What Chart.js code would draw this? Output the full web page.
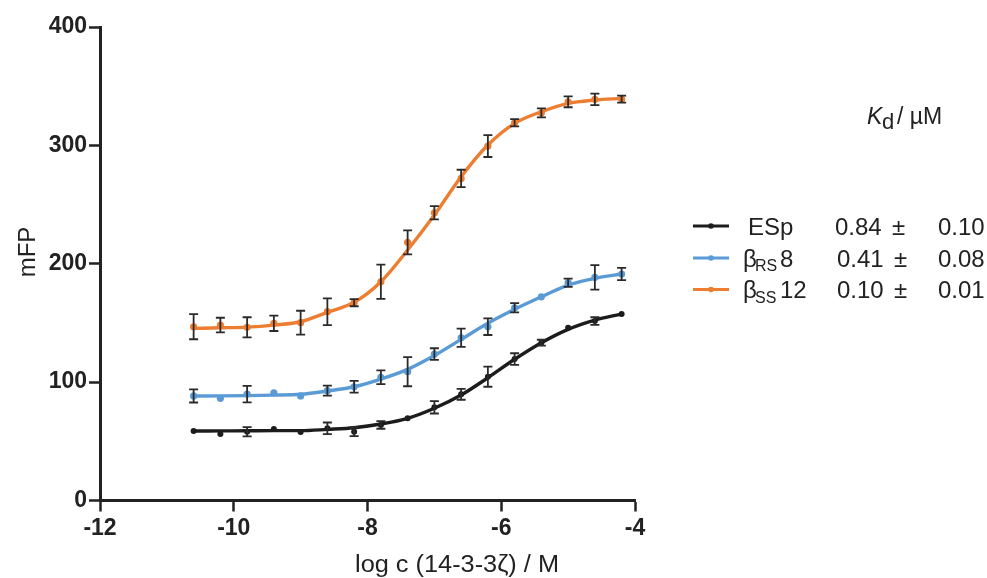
<!DOCTYPE html>
<html>
<head>
<meta charset="utf-8">
<script src="https://cdn.jsdelivr.net/npm/chart.js@4.4.0/dist/chart.umd.min.js"></script>
<style>
  html, body { margin: 0; padding: 0; background: #fff; }
</style>
</head>
<body>
<canvas id="myChart" width="987" height="578"></canvas>
<script>
// log concentration of 14-3-3ζ (M)
const logConc = [-10.6, -10.2, -9.8, -9.4, -9.0, -8.6, -8.2, -7.8, -7.4, -7.0, -6.6, -6.2, -5.8, -5.4, -5.0, -4.6, -4.2];

// ESp
const espMean = [58.7, 56.2, 58.1, 60.4, 57.9, 61.0, 58.1, 63.8, 69.4, 78.7, 89.7, 104.6, 119.5, 133.3, 145.9, 151.6, 157.5];
const espErr  = [0, 0, 3.9, 0, 0, 4.9, 3.7, 3.2, 0, 5.2, 4.6, 8.5, 4.9, 2.5, 0, 3.2, 0];
const espFit  = [58.7, 58.8, 58.9, 59.0, 59.0, 60.1, 61.5, 64.6, 69.4, 77.9, 89.1, 103.7, 119.3, 133.3, 144.6, 152.4, 157.5];

// βRS8
const rsMean = [88.3, 86.3, 89.9, 91.0, 88.3, 92.8, 96.1, 104.1, 108.8, 123.7, 137.5, 146.8, 162.8, 172.1, 184.0, 188.5, 191.3];
const rsErr  = [5.5, 0, 7.0, 0, 0, 4.2, 4.9, 5.8, 12.3, 4.9, 7.7, 7.0, 3.9, 0, 3.5, 10.3, 5.2];
const rsFit  = [88.3, 88.4, 88.6, 89.0, 89.7, 92.5, 96.1, 102.6, 110.8, 122.5, 136.1, 149.7, 161.5, 172.1, 182.0, 187.7, 191.3];

// βSS12
const ssMean = [146.8, 148.2, 146.3, 149.7, 150.2, 159.5, 167.1, 184.8, 218.1, 243.1, 272.1, 299.4, 319.1, 327.5, 336.8, 338.9, 339.1];
const ssErr  = [10.6, 6.2, 8.5, 6.5, 10.1, 11.3, 3.0, 14.5, 10.1, 5.6, 7.3, 9.2, 3.1, 3.8, 4.6, 4.9, 3.0];
const ssFit  = [145.4, 145.9, 146.5, 148.2, 151.0, 159.0, 167.4, 184.8, 211.6, 241.1, 273.5, 300.3, 318.6, 328.4, 335.5, 338.3, 339.7];

const seriesColors = ['#1c1c1c', '#5b9bd5', '#ed7d31'];
const kdValues = ['0.84', '0.41', '0.10'];
const kdErrors = ['0.10', '0.08', '0.01'];

const FONT = '"Liberation Sans", Arial, sans-serif';
const AXIS = '#222';

const means = [espMean, rsMean, ssMean];
const errs = [espErr, rsErr, ssErr];
const fits = [espFit, rsFit, ssFit];

const pts = arr => logConc.map((x, i) => ({ x: x, y: arr[i] }));

const datasets = [];
fits.forEach((f, k) => {
  datasets.push({
    data: pts(f),
    showLine: true,
    borderColor: seriesColors[k],
    borderWidth: 3.4,
    pointRadius: 0,
    cubicInterpolationMode: 'monotone',
    order: 2
  });
});
means.forEach((m, k) => {
  datasets.push({
    data: pts(m),
    showLine: false,
    backgroundColor: seriesColors[k],
    borderWidth: 0,
    pointRadius: k === 0 ? 3 : 3.6,
    order: 1
  });
});

// error bars drawn on top of the points
const errorBars = {
  id: 'errorBars',
  afterDatasetsDraw(chart) {
    const ctx = chart.ctx;
    const xs = chart.scales.x, ys = chart.scales.y;
    ctx.save();
    ctx.strokeStyle = '#2a2a2a';
    ctx.lineWidth = 1.8;
    means.forEach((m, k) => {
      m.forEach((v, i) => {
        const e = errs[k][i];
        if (!e) return;
        const px = xs.getPixelForValue(logConc[i]);
        const top = ys.getPixelForValue(v + e);
        const bot = ys.getPixelForValue(v - e);
        ctx.beginPath();
        ctx.moveTo(px, top); ctx.lineTo(px, bot);
        ctx.moveTo(px - 4.5, top); ctx.lineTo(px + 4.5, top);
        ctx.moveTo(px - 4.5, bot); ctx.lineTo(px + 4.5, bot);
        ctx.stroke();
      });
    });
    ctx.restore();
  }
};

// axis titles, Kd header and the legend table
const annotations = {
  id: 'annotations',
  afterDraw(chart) {
    const ctx = chart.ctx;
    ctx.save();
    ctx.fillStyle = '#222';
    ctx.textBaseline = 'alphabetic';

    // x title, stretched to the width seen in the figure
    const xTitle = 'log c (14-3-3ζ) / M';
    ctx.font = '23px ' + FONT;
    const w = ctx.measureText(xTitle).width;
    ctx.save();
    ctx.translate(457, 572);
    ctx.scale(204 / w, 1);
    ctx.textAlign = 'center';
    ctx.fillText(xTitle, 0, 0);
    ctx.restore();

    // y title
    ctx.save();
    ctx.translate(35, 252);
    ctx.rotate(-Math.PI / 2);
    ctx.textAlign = 'center';
    ctx.font = '24px ' + FONT;
    ctx.fillText('mFP', 0, 0);
    ctx.restore();

    // Kd / µM header
    ctx.textAlign = 'left';
    ctx.font = 'italic 23px ' + FONT;
    ctx.fillText('K', 867, 124);
    ctx.font = '22px ' + FONT;
    ctx.fillText('d', 882, 129);
    ctx.font = '23px ' + FONT;
    ctx.fillText('/ µM', 897, 124);

    // legend rows
    const baselines = [234.5, 266.5, 298];
    baselines.forEach((b, k) => {
      const ly = b - 8.5;
      ctx.strokeStyle = seriesColors[k];
      ctx.lineWidth = 3;
      ctx.beginPath();
      ctx.moveTo(693, ly); ctx.lineTo(729, ly);
      ctx.stroke();
      ctx.fillStyle = seriesColors[k];
      ctx.beginPath();
      ctx.arc(711, ly, 2.8, 0, Math.PI * 2);
      ctx.fill();

      ctx.fillStyle = '#222';
      ctx.font = '24px ' + FONT;
      if (k === 0) {
        ctx.fillText('ESp', 748, b);
      } else {
        ctx.fillText('β', 743, b);
        ctx.font = '16px ' + FONT;
        ctx.fillText(k === 1 ? 'RS' : 'SS', 755, b + 4.5);
        ctx.font = '24px ' + FONT;
        ctx.fillText(k === 1 ? '8' : '12', 780, b);
      }
      const nx = k === 0 ? 835 : 837;
      ctx.fillText(kdValues[k], nx, b);
      ctx.fillText('±', nx + 57, b);
      ctx.fillText(kdErrors[k], 938, b);
    });
    ctx.restore();
  }
};

const ctx = document.getElementById('myChart').getContext('2d');
const myChart = new Chart(ctx, {
  type: 'scatter',
  data: { datasets: datasets },
  options: {
    responsive: false,
    animation: false,
    layout: { padding: { top: 27, right: 352, left: 0, bottom: 0 } },
    plugins: {
      legend: { display: false },
      tooltip: { enabled: false }
    },
    scales: {
      x: {
        type: 'linear',
        min: -12,
        max: -4,
        ticks: {
          stepSize: 2,
          maxRotation: 0,
          padding: 3,
          color: AXIS,
          font: { family: FONT, size: 23, weight: 'bold' }
        },
        grid: { display: true, drawOnChartArea: false, drawTicks: true, tickLength: 11, tickWidth: 2.5, tickColor: AXIS },
        border: { display: true, width: 3, color: AXIS },
        afterFit: s => { s.height = 77.5; }
      },
      y: {
        min: 0,
        max: 400,
        ticks: {
          stepSize: 100,
          padding: 2,
          color: AXIS,
          font: { family: FONT, size: 23, weight: 'bold' }
        },
        grid: { display: true, drawOnChartArea: false, drawTicks: true, tickLength: 11, tickWidth: 2.5, tickColor: AXIS },
        border: { display: true, width: 3, color: AXIS },
        afterFit: s => { s.width = 100; }
      }
    }
  },
  plugins: [errorBars, annotations]
});
</script>
</body>
</html>
